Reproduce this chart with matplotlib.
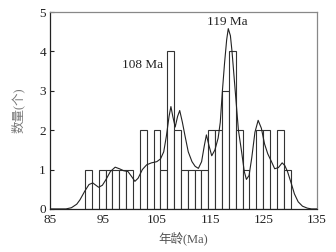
import numpy as np
import matplotlib
matplotlib.use("Agg")
import matplotlib.pyplot as plt

plt.rcParams['font.family'] = ['Liberation Serif', 'Noto Sans CJK SC']

# histogram: 30 equal bins between min and max age
age_min, age_max = 91.55, 130.07
counts = [1, 0, 1, 1, 1, 1, 1, 0, 2, 0, 2, 1, 4, 2, 1,
          1, 1, 1, 2, 2, 3, 4, 2, 1, 0, 2, 2, 0, 2, 1]

# probability density curve
curve_x = [85.0, 88.0, 89.0, 90.0, 90.6, 91.5, 92.3, 93.0, 93.6, 94.1, 94.8, 95.5,
           96.3, 97.2, 98.0, 98.8, 99.6, 100.3, 100.9, 101.5, 102.3, 103.1, 104.0,
           105.0, 105.7, 106.3, 106.8, 107.3, 107.65, 108.0, 108.45, 108.9, 109.3,
           109.8, 110.3, 110.9, 111.6, 112.2, 112.8, 113.4, 113.9, 114.3, 114.8,
           115.3, 115.9, 116.5, 116.9, 117.3, 117.7, 118.1, 118.4, 118.8, 119.1,
           119.7, 120.3, 120.9, 121.4, 121.8, 122.3, 122.8, 123.4, 124.0, 124.6,
           125.2, 125.8, 126.5, 127.1, 127.8, 128.5, 129.0, 129.5, 130.2, 130.8,
           131.5, 132.3, 133.2, 134.0, 135.0]
curve_y = [0.0, 0.0, 0.03, 0.12, 0.23, 0.45, 0.62, 0.66, 0.6, 0.55, 0.6, 0.75,
           0.95, 1.06, 1.02, 0.97, 0.95, 0.82, 0.7, 0.78, 1.0, 1.12, 1.17,
           1.2, 1.27, 1.45, 1.85, 2.35, 2.6, 2.35, 2.08, 2.35, 2.5,
           2.2, 1.85, 1.45, 1.2, 1.08, 1.03, 1.2, 1.6, 1.88, 1.6,
           1.35, 1.5, 1.8, 2.2, 3.0, 3.7, 4.3, 4.58, 4.4, 4.0,
           3.0, 2.0, 1.45, 0.95, 0.75, 0.85, 1.3, 1.95, 2.25, 2.05,
           1.65, 1.4, 1.2, 1.02, 1.05, 1.17, 1.1, 0.95, 0.65, 0.38,
           0.18, 0.07, 0.02, 0.0, 0.0]

peak_labels = ["108 Ma", "119 Ma"]
peak_label_x = [102.4, 118.2]
peak_label_y = [3.65, 4.75]

x_ticks = [85, 95, 105, 115, 125, 135]
y_ticks = [0, 1, 2, 3, 4, 5]

fig = plt.figure(figsize=(3.36, 2.52), dpi=100)
ax = fig.add_axes([0.149, 0.171, 0.794, 0.781])

edges = np.linspace(age_min, age_max, len(counts) + 1)
ax.bar(edges[:-1], counts, width=np.diff(edges), align='edge',
       facecolor='white', edgecolor='#333333', linewidth=0.8, zorder=2)
ax.plot(curve_x, curve_y, color='#222222', linewidth=0.8, zorder=3)

for t, x, y in zip(peak_labels, peak_label_x, peak_label_y):
    ax.text(x, y, t, ha='center', va='center', fontsize=9.5, color='#222222', zorder=4)

ax.set_xlim(85, 135)
ax.set_ylim(0, 5)
ax.set_xticks(x_ticks)
ax.set_yticks(y_ticks)
ax.tick_params(direction='in', length=3, width=0.8, labelsize=9.5,
               colors='#222222', pad=3)
ax.tick_params(axis='x', length=0, pad=4)

for s in ['left', 'bottom']:
    ax.spines[s].set_color('#222222')
    ax.spines[s].set_linewidth(0.9)
for s in ['top', 'right']:
    ax.spines[s].set_color('#888888')
    ax.spines[s].set_linewidth(0.9)

ax.set_xlabel('年龄(Ma)', fontsize=9, color='#555555', labelpad=4)
ax.set_ylabel('数量(个)', fontsize=9, color='#777777', labelpad=10)

fig.savefig('out.png', dpi=100)
